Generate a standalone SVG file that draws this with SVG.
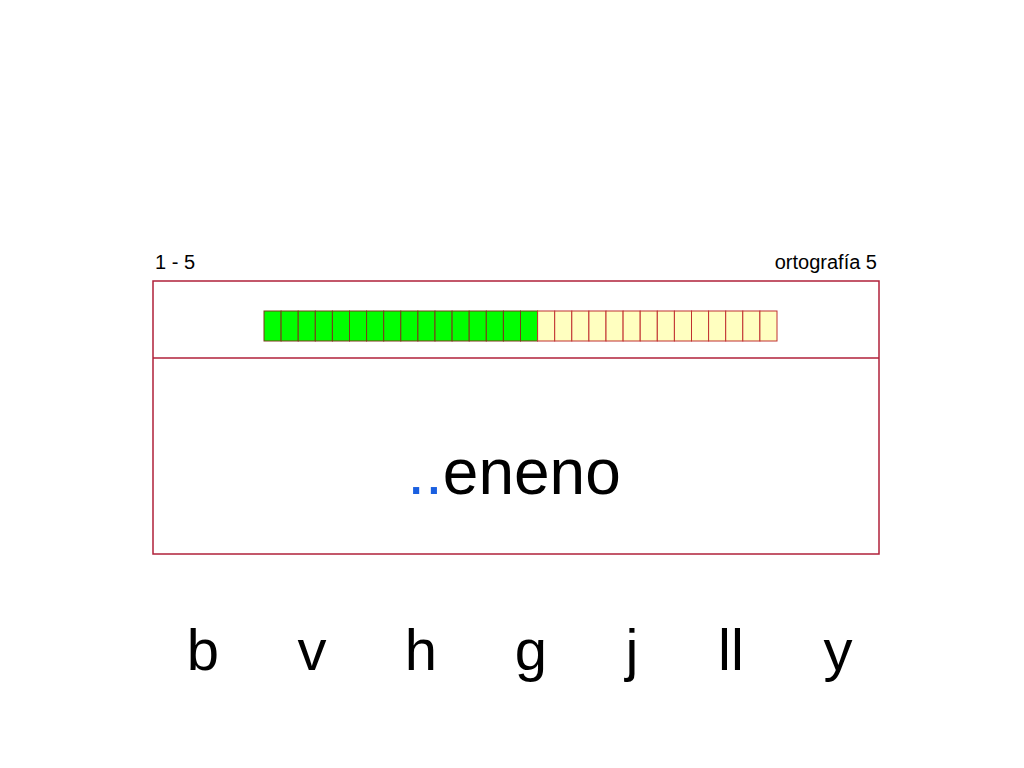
<svg xmlns="http://www.w3.org/2000/svg" width="1024" height="768" viewBox="0 0 1024 768">
<style>
text{font-family:"Liberation Sans",Arial,sans-serif;fill:#000}
.g{fill:#00ff00;stroke:#7a3a1a;stroke-width:1}
.y{fill:#ffffc0;stroke:#c03030;stroke-width:1}
.l{font-size:58px;text-anchor:middle}
</style>
<rect width="1024" height="768" fill="#fff"/>
<g id="header">
<text x="155" y="269" font-size="20">1 - 5</text>
<text x="877" y="269" font-size="20" text-anchor="end">ortografía 5</text>
</g>
<g id="frame" fill="none" stroke="#b0203a" stroke-width="1.5">
<rect x="153" y="281" width="726" height="273"/>
<line x1="153" y1="358" x2="879" y2="358"/>
</g>
<g id="progress">
<rect class="g" x="264" y="311" width="17.1" height="30"/><rect class="g" x="281.1" y="311" width="17.1" height="30"/><rect class="g" x="298.2" y="311" width="17.1" height="30"/><rect class="g" x="315.3" y="311" width="17.1" height="30"/><rect class="g" x="332.4" y="311" width="17.1" height="30"/><rect class="g" x="349.5" y="311" width="17.1" height="30"/><rect class="g" x="366.6" y="311" width="17.1" height="30"/><rect class="g" x="383.7" y="311" width="17.1" height="30"/><rect class="g" x="400.8" y="311" width="17.1" height="30"/><rect class="g" x="417.9" y="311" width="17.1" height="30"/><rect class="g" x="435" y="311" width="17.1" height="30"/><rect class="g" x="452.1" y="311" width="17.1" height="30"/><rect class="g" x="469.2" y="311" width="17.1" height="30"/><rect class="g" x="486.3" y="311" width="17.1" height="30"/><rect class="g" x="503.4" y="311" width="17.1" height="30"/><rect class="g" x="520.5" y="311" width="17.1" height="30"/>
<rect class="y" x="537.6" y="311" width="17.1" height="30"/><rect class="y" x="554.7" y="311" width="17.1" height="30"/><rect class="y" x="571.8" y="311" width="17.1" height="30"/><rect class="y" x="588.9" y="311" width="17.1" height="30"/><rect class="y" x="606" y="311" width="17.1" height="30"/><rect class="y" x="623.1" y="311" width="17.1" height="30"/><rect class="y" x="640.2" y="311" width="17.1" height="30"/><rect class="y" x="657.3" y="311" width="17.1" height="30"/><rect class="y" x="674.4" y="311" width="17.1" height="30"/><rect class="y" x="691.5" y="311" width="17.1" height="30"/><rect class="y" x="708.6" y="311" width="17.1" height="30"/><rect class="y" x="725.7" y="311" width="17.1" height="30"/><rect class="y" x="742.8" y="311" width="17.1" height="30"/><rect class="y" x="759.9" y="311" width="17.1" height="30"/>
</g>
<g id="word"><text x="514" y="494" font-size="64" text-anchor="middle"><tspan fill="#1a5fe0">..</tspan>eneno</text></g>
<g id="letters">
<text class="l" x="203" y="670">b</text>
<text class="l" x="312" y="670">v</text>
<text class="l" x="421" y="670">h</text>
<text class="l" x="531" y="670">g</text>
<text class="l" x="632" y="670">j</text>
<text class="l" x="731" y="670">ll</text>
<text class="l" x="838" y="670">y</text>
</g>
</svg>
